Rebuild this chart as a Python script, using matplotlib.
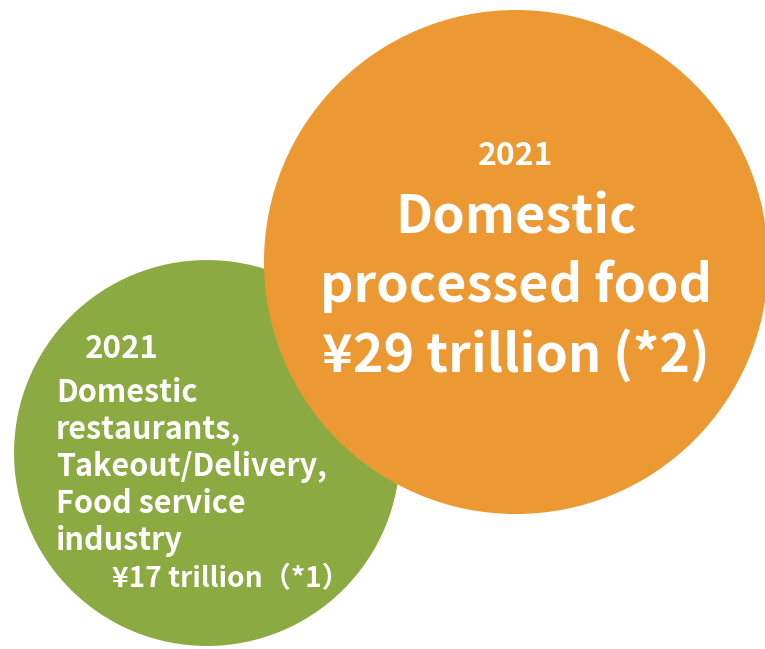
import numpy as np
import matplotlib
matplotlib.use("Agg")
import matplotlib.pyplot as plt
from matplotlib.patches import Circle

plt.rcParams['font.family'] = ['Noto Sans CJK JP', 'DejaVu Sans']

# Market sizes (trillion yen), 2021
segments = ["Domestic restaurants, Takeout/Delivery, Food service industry",
            "Domestic processed food"]
values = [17, 29]
years = ["2021", "2021"]
colors = ["#8BAA41", "#EC9933"]

W, H = 765, 649
fig = plt.figure(figsize=(W / 100, H / 100), dpi=100)
ax = fig.add_axes([0, 0, 1, 1])
ax.set_xlim(0, W)
ax.set_ylim(H, 0)
ax.set_aspect("equal")
ax.axis("off")

# bubble area proportional to market size
scale = 46.8
radii = [scale * np.sqrt(v) for v in values]
centers = [(207, 453), (516, 262)]

for (cx, cy), r, c, z in zip(centers, radii, colors, [1, 2]):
    ax.add_patch(Circle((cx, cy), r, facecolor=c, edgecolor="none", zorder=z))

# processed food bubble labels
ocx = centers[1][0]
ax.text(ocx, 165, years[1], ha="center", va="baseline", color="white",
        fontsize=23, fontweight="bold", zorder=3)
for txt, yb in [("Domestic", 233), ("processed food", 302),
                (f"¥{values[1]} trillion (*2)", 372)]:
    ax.text(ocx, yb, txt, ha="center", va="baseline", color="white",
            fontsize=37.5, fontweight="bold", zorder=3)

# food service bubble labels
ax.text(85, 358, years[0], ha="left", va="baseline", color="white",
        fontsize=22.5, fontweight="bold", zorder=3)
lines = ["Domestic", "restaurants,", "Takeout/Delivery,", "Food service", "industry"]
for i, txt in enumerate(lines):
    ax.text(56, 402 + i * 37, txt, ha="left", va="baseline", color="white",
            fontsize=22, fontweight="bold", zorder=3)
ax.text(112, 587, f"¥{values[0]} trillion（*1）", ha="left", va="baseline",
        color="white", fontsize=20.3, fontweight="bold", zorder=3)

fig.savefig("out.png", dpi=100, facecolor="white")
